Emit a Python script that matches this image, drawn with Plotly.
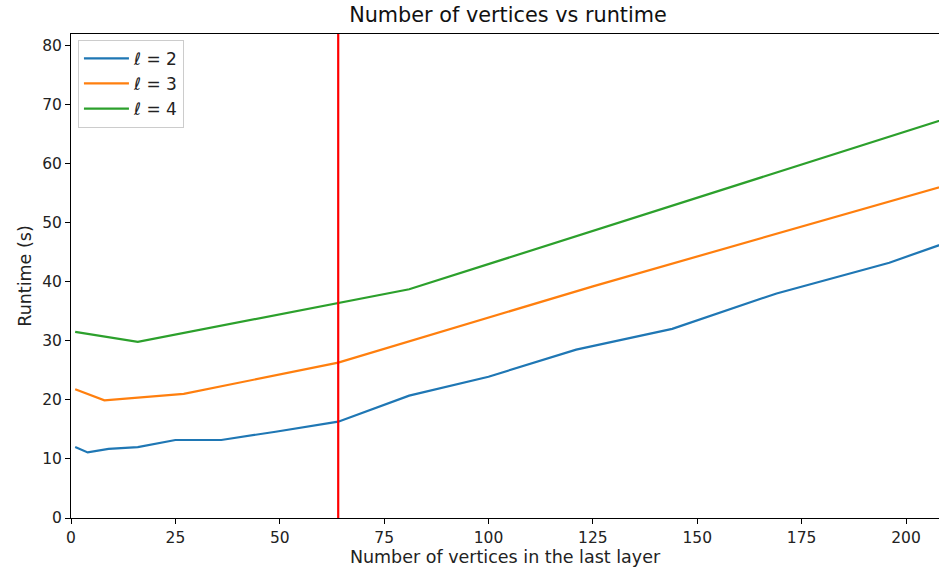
import plotly.graph_objects as go

x_l2 = [1, 4, 9, 16, 25, 36, 49, 64, 81, 100, 121, 144, 169, 196, 225]
y_l2 = [12.0, 11.1, 11.7, 12.0, 13.2, 13.2, 14.6, 16.3, 20.7, 23.9, 28.5, 32.0, 38.0, 43.2, 50.4]

x_l3 = [1, 8, 27, 64, 125, 216]
y_l3 = [21.8, 19.9, 21.0, 26.3, 39.2, 57.6]

x_l4 = [1, 16, 81, 256]
y_l4 = [31.5, 29.8, 38.7, 78.0]

series_names = ["<i>ℓ</i> = 2", "<i>ℓ</i> = 3", "<i>ℓ</i> = 4"]
colors = ["#1f77b4", "#ff7f0e", "#2ca02c"]
vline_x = 64

x_ticks = [0, 25, 50, 75, 100, 125, 150, 175, 200]
y_ticks = [0, 10, 20, 30, 40, 50, 60, 70, 80]

fig = go.Figure()
for xs, ys, name, c in zip([x_l2, x_l3, x_l4], [y_l2, y_l3, y_l4], series_names, colors):
    fig.add_trace(go.Scatter(x=xs, y=ys, mode="lines", name=name,
                             line=dict(color=c, width=2.2)))

fig.add_shape(type="line", x0=vline_x, x1=vline_x, y0=0, y1=1, yref="paper",
              line=dict(color="red", width=2.2))

font = "DejaVu Sans"
axis_common = dict(showgrid=False, zeroline=False, showline=True, linecolor="black",
                   linewidth=1, mirror=True, ticks="outside", ticklen=5, tickwidth=1,
                   tickcolor="black", automargin=False,
                   tickfont=dict(family=font, size=15.5, color="#222222"))

fig.update_layout(
    width=939, height=577,
    margin=dict(l=71, r=0, t=34, b=59),
    paper_bgcolor="white", plot_bgcolor="white",
    title=dict(text="Number of vertices vs runtime", x=0.541, xanchor="center",
               y=0.974, yanchor="middle",
               font=dict(family=font, size=20.8, color="#111111")),
    xaxis=dict(range=[0, 207.9], tickvals=x_ticks,
               title=dict(text="Number of vertices in the last layer", standoff=4,
                          font=dict(family=font, size=17.5, color="#222222")),
               **axis_common),
    yaxis=dict(range=[0, 81.9], tickvals=y_ticks,
               title=dict(text="Runtime (s)", standoff=6,
                          font=dict(family=font, size=17.5, color="#222222")),
               **axis_common),
    legend=dict(x=0.008, y=0.988, xanchor="left", yanchor="top",
                bgcolor="rgba(255,255,255,0.8)", bordercolor="#cccccc", borderwidth=1,
                font=dict(family=font, size=17, color="#222222"),
                tracegroupgap=4, itemwidth=45),
    showlegend=True,
)

fig.write_html("out.html", config={"displayModeBar": False},
               post_script="document.body.style.margin='0';document.body.style.overflow='hidden';")
